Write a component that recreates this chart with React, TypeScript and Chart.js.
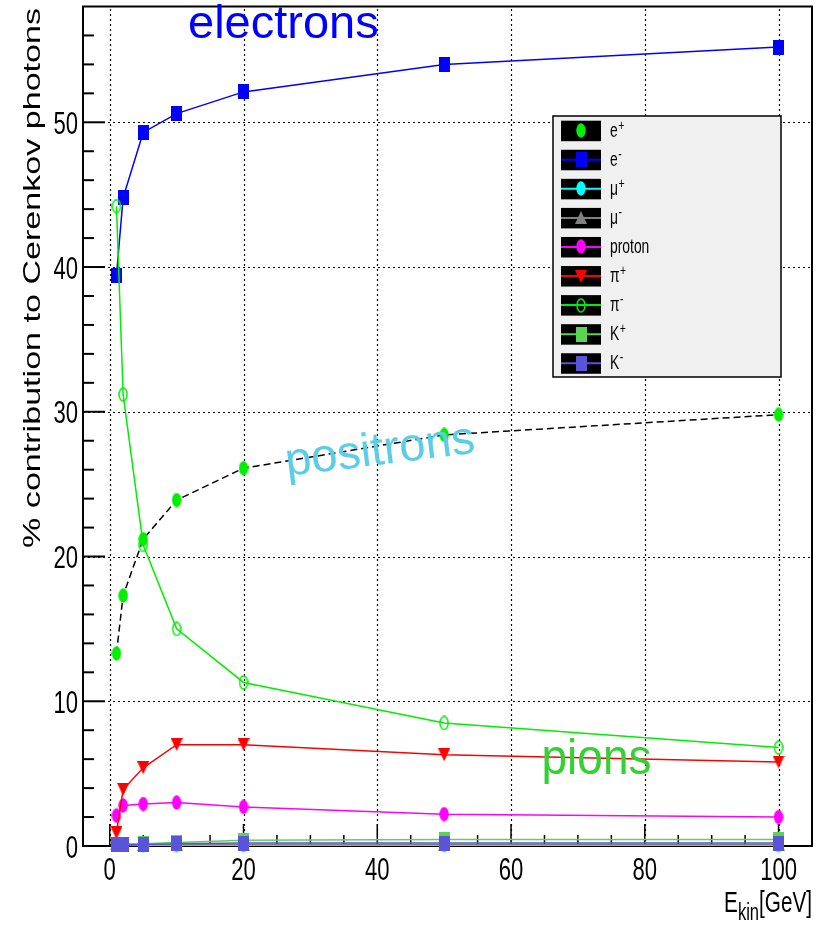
import React, { useEffect, useRef } from "react";
import { Chart, registerables } from "chart.js";

Chart.register(...registerables);

// ---------------- data ----------------
const energies = [1, 2, 5, 10, 20, 50, 100];
const ePlus = [13.3, 17.3, 21.2, 23.9, 26.1, 28.4, 29.8];
const eMinus = [39.4, 44.8, 49.3, 50.6, 52.1, 54.0, 55.2];
const muPlus = [0.1, 0.1, 0.05, 0.05, 0.05, 0.05, 0.05];
const muMinus = [0.15, 0.1, 0.1, 0.1, 0.1, 0.1, 0.1];
const proton = [2.1, 2.8, 2.9, 3.0, 2.7, 2.2, 2.0];
const piPlus = [0.9, 3.9, 5.4, 7.0, 7.0, 6.3, 5.8];
const piMinus = [44.2, 31.2, 20.8, 15.0, 11.3, 8.5, 6.8];
const kPlus = [0.1, 0.1, 0.15, 0.25, 0.4, 0.45, 0.45];
const kMinus = [0.1, 0.1, 0.1, 0.15, 0.2, 0.2, 0.2];

const xTicks = [0, 20, 40, 60, 80, 100];
const yTicks = [0, 10, 20, 30, 40, 50];
const xMinor = [5, 10, 15, 25, 30, 35, 45, 50, 55, 65, 70, 75, 85, 90, 95, 105];
const yMinor = [2, 4, 6, 8, 12, 14, 16, 18, 22, 24, 26, 28, 32, 34, 36, 38, 42, 44, 46, 48, 52, 54, 56];

const xTitleMain = "E";
const xTitleSub = "kin";
const xTitleUnit = "[GeV]";
const yTitle = "% contribution to Cerenkov photons";

const FONT = '"Liberation Sans", Arial, Helvetica, sans-serif';

type Marker = "ellipse" | "openEllipse" | "rect" | "triUp" | "triDown";

interface SeriesDef {
  name: string;
  sup: string;
  values: number[];
  line: string;
  marker: Marker;
  fill: string;
  dash?: number[];
}

const series: SeriesDef[] = [
  { name: "e", sup: "+", values: ePlus, line: "#000000", marker: "ellipse", fill: "#00ee00", dash: [7, 4] },
  { name: "e", sup: "-", values: eMinus, line: "#0000ff", marker: "rect", fill: "#0000ff" },
  { name: "\u03bc", sup: "+", values: muPlus, line: "#00ffff", marker: "ellipse", fill: "#00ffff" },
  { name: "\u03bc", sup: "-", values: muMinus, line: "#808080", marker: "triUp", fill: "#808080" },
  { name: "proton", sup: "", values: proton, line: "#ff00ff", marker: "ellipse", fill: "#ff00ff" },
  { name: "\u03c0", sup: "+", values: piPlus, line: "#ff0000", marker: "triDown", fill: "#ff0000" },
  { name: "\u03c0", sup: "-", values: piMinus, line: "#00ee00", marker: "openEllipse", fill: "#00ee00" },
  { name: "K", sup: "+", values: kPlus, line: "#59d454", marker: "rect", fill: "#59d454" },
  { name: "K", sup: "-", values: kMinus, line: "#5954d8", marker: "rect", fill: "#5954d8" },
];

function makeMarker(kind: Marker, color: string): HTMLCanvasElement {
  const c = document.createElement("canvas");
  let w = 10, h = 15;
  if (kind === "rect") { w = 11; h = 15; }
  if (kind === "triUp" || kind === "triDown") { w = 12; h = 13; }
  c.width = w; c.height = h;
  const g = c.getContext("2d")!;
  g.fillStyle = color;
  g.strokeStyle = color;
  if (kind === "ellipse") {
    g.beginPath();
    g.ellipse(w / 2, h / 2, w / 2 - 0.3, h / 2 - 0.3, 0, 0, Math.PI * 2);
    g.fill();
  } else if (kind === "openEllipse") {
    g.lineWidth = 1.5;
    g.beginPath();
    g.ellipse(w / 2, h / 2, w / 2 - 1, h / 2 - 1, 0, 0, Math.PI * 2);
    g.stroke();
  } else if (kind === "rect") {
    g.fillRect(0, 0, w, h);
  } else if (kind === "triUp") {
    g.beginPath(); g.moveTo(w / 2, 0); g.lineTo(w, h); g.lineTo(0, h); g.closePath(); g.fill();
  } else {
    g.beginPath(); g.moveTo(0, 0); g.lineTo(w, 0); g.lineTo(w / 2, h); g.closePath(); g.fill();
  }
  return c;
}

function drawText(
  ctx: CanvasRenderingContext2D, s: string, x: number, y: number,
  size: number, sx: number, align: CanvasTextAlign, color: string, rot = 0
) {
  ctx.save();
  ctx.translate(x, y);
  if (rot) ctx.rotate(rot);
  ctx.scale(sx, 1);
  ctx.font = `${size}px ${FONT}`;
  ctx.textAlign = align;
  ctx.textBaseline = "alphabetic";
  ctx.fillStyle = color;
  ctx.fillText(s, 0, 0);
  ctx.restore();
}

function textWidth(ctx: CanvasRenderingContext2D, s: string, size: number, sx: number) {
  ctx.save();
  ctx.font = `${size}px ${FONT}`;
  const w = ctx.measureText(s).width * sx;
  ctx.restore();
  return w;
}

export default function App() {
  const ref = useRef<HTMLCanvasElement | null>(null);

  useEffect(() => {
    if (!ref.current) return;
    const markers = series.map((s) => makeMarker(s.marker, s.fill));

    const rootPlugin = {
      id: "rootStyle",
      beforeDatasetsDraw(chart: any) {
        const ctx: CanvasRenderingContext2D = chart.ctx;
        const { left, right, top, bottom } = chart.chartArea;
        const xs = chart.scales.x, ys = chart.scales.y;
        ctx.save();
        // grid
        ctx.strokeStyle = "#000";
        ctx.lineWidth = 1.2;
        ctx.setLineDash([2, 3]);
        xTicks.forEach((v) => {
          const px = Math.round(xs.getPixelForValue(v)) + 0.5;
          ctx.beginPath(); ctx.moveTo(px, bottom); ctx.lineTo(px, top); ctx.stroke();
        });
        yTicks.forEach((v) => {
          if (v === 0) return;
          const py = Math.round(ys.getPixelForValue(v)) + 0.5;
          ctx.beginPath(); ctx.moveTo(left, py); ctx.lineTo(right, py); ctx.stroke();
        });
        ctx.setLineDash([]);
        // frame
        ctx.lineWidth = 2;
        ctx.strokeRect(left, top, right - left, bottom - top);
        // ticks
        ctx.lineWidth = 2;
        yTicks.forEach((v) => {
          const py = ys.getPixelForValue(v);
          ctx.beginPath(); ctx.moveTo(left, py); ctx.lineTo(left + 22, py); ctx.stroke();
        });
        yMinor.forEach((v) => {
          const py = ys.getPixelForValue(v);
          ctx.beginPath(); ctx.moveTo(left, py); ctx.lineTo(left + 11, py); ctx.stroke();
        });
        ctx.lineWidth = 1.5;
        xTicks.forEach((v) => {
          const px = xs.getPixelForValue(v);
          ctx.beginPath(); ctx.moveTo(px, bottom); ctx.lineTo(px, bottom - 22); ctx.stroke();
        });
        xMinor.forEach((v) => {
          const px = xs.getPixelForValue(v);
          if (px > right) return;
          ctx.beginPath(); ctx.moveTo(px, bottom); ctx.lineTo(px, bottom - 11); ctx.stroke();
        });
        ctx.restore();
      },
      afterDraw(chart: any) {
        const ctx: CanvasRenderingContext2D = chart.ctx;
        const { left, bottom } = chart.chartArea;
        const xs = chart.scales.x, ys = chart.scales.y;
        // tick labels
        yTicks.forEach((v) => {
          drawText(ctx, String(v), left - 5, ys.getPixelForValue(v) + 11.5, 32, 0.69, "right", "#000");
        });
        xTicks.forEach((v) => {
          drawText(ctx, String(v), xs.getPixelForValue(v), bottom + 33.5, 32, 0.69, "center", "#000");
        });
        // y title
        ctx.save();
        ctx.translate(39.5, 8);
        ctx.rotate(-Math.PI / 2);
        ctx.scale(1.42, 1);
        ctx.font = `24px ${FONT}`;
        ctx.textAlign = "right";
        ctx.fillStyle = "#000";
        ctx.fillText(yTitle, 0, 0);
        ctx.restore();
        // x title
        const rightEdge = 812;
        const wUnit = textWidth(ctx, xTitleUnit, 30, 0.69);
        const wSub = textWidth(ctx, xTitleSub, 23, 0.72);
        drawText(ctx, xTitleUnit, rightEdge, 911.5, 30, 0.69, "right", "#000");
        drawText(ctx, xTitleSub, rightEdge - wUnit, 920, 23, 0.72, "right", "#000");
        drawText(ctx, xTitleMain, rightEdge - wUnit - wSub, 911.5, 30, 0.69, "right", "#000");

        // annotations
        drawText(ctx, "electrons", 188, 38, 47, 1.0, "left", "#0000ff");
        drawText(ctx, "positrons", 287, 476, 47, 1.0, "left", "#5ccde6", (-7 * Math.PI) / 180);
        drawText(ctx, "pions", 541.5, 773.5, 50, 0.92, "left", "#33d133");

        // legend
        const lx0 = 553, ly0 = 116, lx1 = 781, ly1 = 377;
        ctx.save();
        ctx.fillStyle = "#f0f0f0";
        ctx.fillRect(lx0, ly0, lx1 - lx0, ly1 - ly0);
        ctx.strokeStyle = "#000";
        ctx.lineWidth = 1.5;
        ctx.strokeRect(lx0, ly0, lx1 - lx0, ly1 - ly0);
        series.forEach((s, i) => {
          const cy = 130.7 + i * 29.07;
          ctx.fillStyle = "#000";
          ctx.fillRect(561, cy - 10, 40, 20.5);
          ctx.strokeStyle = s.line;
          ctx.lineWidth = 2;
          ctx.beginPath(); ctx.moveTo(561, cy); ctx.lineTo(601, cy); ctx.stroke();
          const m = markers[i];
          ctx.drawImage(m, Math.round(581 - m.width / 2), Math.round(cy - m.height / 2));
          drawText(ctx, s.name, 610, cy + 6, 21, 0.66, "left", "#000");
          if (s.sup) {
            const w = textWidth(ctx, s.name, 21, 0.66);
            drawText(ctx, s.sup, 610 + w + 0.5, cy - 1, 14, 0.75, "left", "#000");
          }
        });
        ctx.restore();
      },
    };

    const datasets = series.map((s, i) => ({
      label: s.name + s.sup,
      data: energies.map((x, k) => ({ x, y: s.values[k] })),
      showLine: true,
      borderColor: s.line,
      borderWidth: 1.5,
      borderDash: s.dash || [],
      backgroundColor: s.fill,
      pointStyle: markers[i],
      pointRadius: 5,
      pointHoverRadius: 5,
      tension: 0,
      clip: false as any,
      order: series.length - 1 - i,
    }));

    const chart = new Chart(ref.current, {
      type: "scatter",
      data: { datasets } as any,
      options: {
        responsive: false,
        animation: false,
        devicePixelRatio: 1,
        events: [],
        layout: { padding: { top: 6, right: 14, left: 0, bottom: 0 } },
        plugins: { legend: { display: false }, tooltip: { enabled: false } },
        scales: {
          x: {
            type: "linear",
            min: -4,
            max: 105,
            grid: { display: false },
            border: { display: false },
            ticks: { display: false },
            afterBuildTicks: (s: any) => { s.ticks = xTicks.map((v) => ({ value: v })); },
            afterFit: (s: any) => { s.height = 80; },
          },
          y: {
            type: "linear",
            min: 0,
            max: 58,
            grid: { display: false },
            border: { display: false },
            ticks: { display: false },
            afterBuildTicks: (s: any) => { s.ticks = yTicks.map((v) => ({ value: v })); },
            afterFit: (s: any) => { s.width = 83; },
          },
        },
      } as any,
      plugins: [rootPlugin],
    });
    return () => chart.destroy();
  }, []);

  return (
    <div style={{ position: "fixed", left: 0, top: 0, width: 826, height: 926, background: "#fff" }}>
      <canvas ref={ref} width={826} height={926} style={{ display: "block", width: 826, height: 926 }} />
    </div>
  );
}
